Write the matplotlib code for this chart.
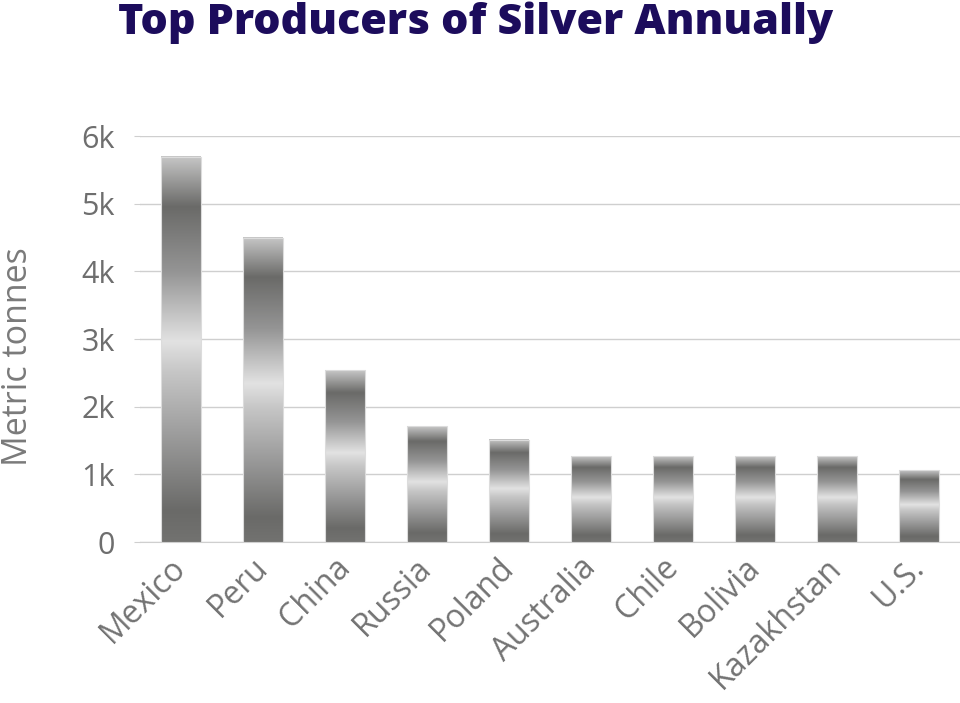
import numpy as np
import matplotlib
matplotlib.use("Agg")
import matplotlib.pyplot as plt
from matplotlib.colors import LinearSegmentedColormap

# data
countries = ["Mexico", "Peru", "China", "Russia", "Poland",
             "Australia", "Chile", "Bolivia", "Kazakhstan", "U.S."]
tonnes = [5690, 4500, 2540, 1710, 1510, 1270, 1270, 1270, 1270, 1060]
yticks = [0, 1000, 2000, 3000, 4000, 5000, 6000]
ytick_labels = ["0", "1k", "2k", "3k", "4k", "5k", "6k"]

plt.rcParams['font.family'] = ['Open Sans', 'DejaVu Sans']

# metallic look: dark band near top, bright middle, dark bottom
silver = LinearSegmentedColormap.from_list("silver", [
    (0.00, "#c6c6c6"),
    (0.13, "#6a6a68"),
    (0.30, "#959595"),
    (0.48, "#e2e2e2"),
    (0.56, "#c6c6c6"),
    (0.72, "#9d9d9d"),
    (0.92, "#6a6a68"),
    (1.00, "#727270"),
])
grad = np.linspace(0, 1, 256).reshape(-1, 1)

fig = plt.figure(figsize=(9.6, 7.03), dpi=100)
ax = fig.add_axes([0.1458, 0.229, 0.8542, 0.5775])

w = 0.48
x = np.arange(len(countries))
for xi, v in zip(x, tonnes):
    ax.imshow(grad, cmap=silver, aspect="auto", interpolation="bilinear",
              extent=(xi - w / 2, xi + w / 2, 0, v), zorder=3)
    ax.bar(xi, v, width=w, facecolor="none", edgecolor="#dcdcdc",
           linewidth=0.8, zorder=4)

ax.set_xlim(-0.5, len(countries) - 0.5)
ax.set_ylim(0, 6000)
ax.set_yticks(yticks)
ax.set_yticklabels(ytick_labels, fontsize=22, color="#6e6e6e")
ax.yaxis.grid(True, color="#cfcfcf", linewidth=1)
ax.set_axisbelow(True)
ax.tick_params(axis="y", length=4, color="#cfcfcf", pad=14)

ax.set_xticks(x)
ax.set_xticklabels(countries, rotation=45, ha="right", va="center",
                   rotation_mode="anchor", fontsize=23, color="#737373")
ax.tick_params(axis="x", length=0, pad=15)

for s in ["top", "right", "left"]:
    ax.spines[s].set_visible(False)
ax.spines["bottom"].set_color("#cfcfcf")

ax.set_ylabel("Metric tonnes", fontsize=24.5, color="#7a7a7a")
ax.yaxis.set_label_coords(-0.128, 0.456)

fig.text(0.495, 0.952, "Top Producers of Silver Annually", ha="center",
         va="baseline", fontsize=31, fontweight="heavy", color="#1c0c5c")

fig.savefig("out.png", dpi=100, facecolor="white")
